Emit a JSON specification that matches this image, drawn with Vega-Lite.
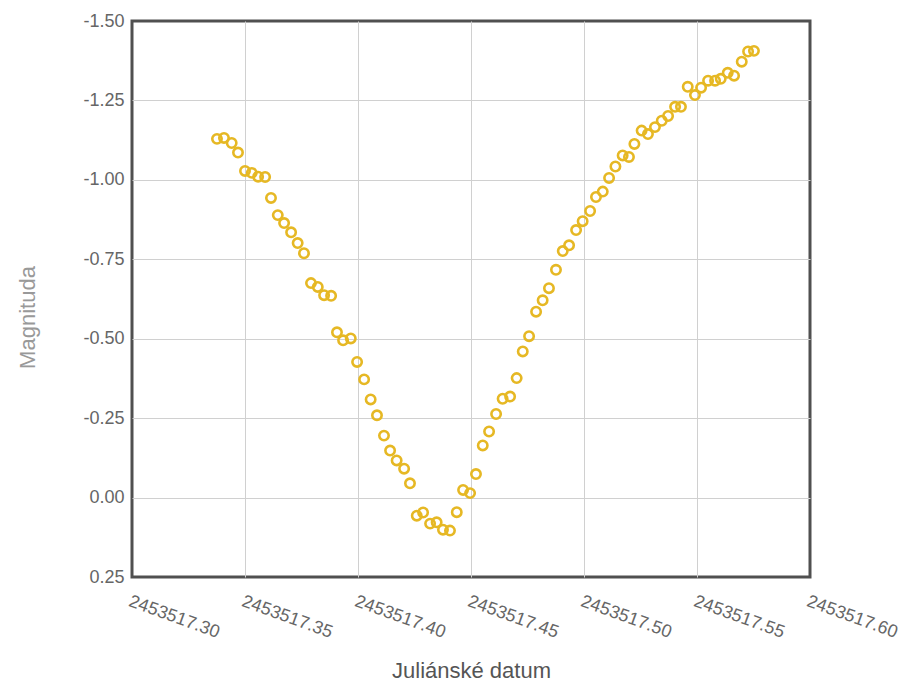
{
  "$schema": "https://vega.github.io/schema/vega-lite/v6.json",
  "usermeta": {"embedOptions": {"actions": false}},
  "autosize": {"type": "none"},
  "width": 678,
  "height": 556,
  "padding": {"left": 132, "top": 21, "right": 91, "bottom": 107},
  "background": "white",
  "config": {
    "view": {"stroke": "#505050", "strokeWidth": 3},
    "font": "Liberation Sans",
    "locale": {
      "number": {"decimal": ".", "thousands": ",", "grouping": [3], "currency": ["$", ""], "minus": "-"}
    }
  },
  "data": {
    "values": [
      {"jd": 2453517.3376, "mag": -1.129},
      {"jd": 2453517.3407, "mag": -1.132},
      {"jd": 2453517.3441, "mag": -1.116},
      {"jd": 2453517.3469, "mag": -1.086},
      {"jd": 2453517.3500, "mag": -1.028},
      {"jd": 2453517.3530, "mag": -1.022},
      {"jd": 2453517.3558, "mag": -1.010},
      {"jd": 2453517.3589, "mag": -1.009},
      {"jd": 2453517.3615, "mag": -0.943},
      {"jd": 2453517.3645, "mag": -0.889},
      {"jd": 2453517.3673, "mag": -0.864},
      {"jd": 2453517.3704, "mag": -0.835},
      {"jd": 2453517.3733, "mag": -0.801},
      {"jd": 2453517.3761, "mag": -0.769},
      {"jd": 2453517.3792, "mag": -0.675},
      {"jd": 2453517.3822, "mag": -0.663},
      {"jd": 2453517.3850, "mag": -0.637},
      {"jd": 2453517.3881, "mag": -0.635},
      {"jd": 2453517.3907, "mag": -0.520},
      {"jd": 2453517.3934, "mag": -0.495},
      {"jd": 2453517.3968, "mag": -0.501},
      {"jd": 2453517.3996, "mag": -0.427},
      {"jd": 2453517.4027, "mag": -0.372},
      {"jd": 2453517.4056, "mag": -0.309},
      {"jd": 2453517.4084, "mag": -0.259},
      {"jd": 2453517.4115, "mag": -0.195},
      {"jd": 2453517.4142, "mag": -0.148},
      {"jd": 2453517.4171, "mag": -0.117},
      {"jd": 2453517.4204, "mag": -0.091},
      {"jd": 2453517.4230, "mag": -0.045},
      {"jd": 2453517.4260, "mag": 0.057},
      {"jd": 2453517.4288, "mag": 0.047},
      {"jd": 2453517.4319, "mag": 0.082},
      {"jd": 2453517.4348, "mag": 0.078},
      {"jd": 2453517.4376, "mag": 0.101},
      {"jd": 2453517.4407, "mag": 0.104},
      {"jd": 2453517.4437, "mag": 0.046},
      {"jd": 2453517.4465, "mag": -0.024},
      {"jd": 2453517.4496, "mag": -0.014},
      {"jd": 2453517.4522, "mag": -0.074},
      {"jd": 2453517.4552, "mag": -0.164},
      {"jd": 2453517.4580, "mag": -0.208},
      {"jd": 2453517.4611, "mag": -0.263},
      {"jd": 2453517.4640, "mag": -0.311},
      {"jd": 2453517.4673, "mag": -0.318},
      {"jd": 2453517.4702, "mag": -0.376},
      {"jd": 2453517.4729, "mag": -0.460},
      {"jd": 2453517.4757, "mag": -0.508},
      {"jd": 2453517.4788, "mag": -0.585},
      {"jd": 2453517.4817, "mag": -0.621},
      {"jd": 2453517.4845, "mag": -0.659},
      {"jd": 2453517.4876, "mag": -0.717},
      {"jd": 2453517.4906, "mag": -0.776},
      {"jd": 2453517.4934, "mag": -0.794},
      {"jd": 2453517.4965, "mag": -0.842},
      {"jd": 2453517.4994, "mag": -0.870},
      {"jd": 2453517.5027, "mag": -0.902},
      {"jd": 2453517.5053, "mag": -0.946},
      {"jd": 2453517.5083, "mag": -0.963},
      {"jd": 2453517.5111, "mag": -1.006},
      {"jd": 2453517.5139, "mag": -1.042},
      {"jd": 2453517.5171, "mag": -1.077},
      {"jd": 2453517.5199, "mag": -1.072},
      {"jd": 2453517.5223, "mag": -1.113},
      {"jd": 2453517.5255, "mag": -1.155},
      {"jd": 2453517.5283, "mag": -1.144},
      {"jd": 2453517.5314, "mag": -1.166},
      {"jd": 2453517.5344, "mag": -1.186},
      {"jd": 2453517.5372, "mag": -1.201},
      {"jd": 2453517.5403, "mag": -1.230},
      {"jd": 2453517.5429, "mag": -1.230},
      {"jd": 2453517.5459, "mag": -1.293},
      {"jd": 2453517.5491, "mag": -1.267},
      {"jd": 2453517.5518, "mag": -1.290},
      {"jd": 2453517.5549, "mag": -1.312},
      {"jd": 2453517.5580, "mag": -1.312},
      {"jd": 2453517.5605, "mag": -1.318},
      {"jd": 2453517.5636, "mag": -1.337},
      {"jd": 2453517.5664, "mag": -1.328},
      {"jd": 2453517.5698, "mag": -1.372},
      {"jd": 2453517.5726, "mag": -1.404},
      {"jd": 2453517.5752, "mag": -1.406}
    ]
  },
  "mark": {"type": "point", "shape": "circle", "filled": false, "stroke": "#E6B824", "strokeWidth": 2.6, "size": 88, "opacity": 1},
  "encoding": {
    "x": {
      "field": "jd",
      "type": "quantitative",
      "scale": {"domain": [2453517.30, 2453517.60], "nice": false, "zero": false},
      "axis": {
        "title": "Juliánské datum",
        "values": [2453517.30, 2453517.35, 2453517.40, 2453517.45, 2453517.50, 2453517.55, 2453517.60],
        "format": ".2f",
        "labelAngle": 20,
        "labelAlign": "left",
        "labelBaseline": "top",
        "labelPadding": 15,
        "labelDx": -4,
        "labelFontSize": 18,
        "labelColor": "#666666",
        "labelFont": "Liberation Sans",
        "labelOverlap": false,
        "labelFlush": false,
        "ticks": false,
        "domain": false,
        "grid": true,
        "gridColor": {"condition": {"test": "datum.value <= 2453517.301 || datum.value >= 2453517.599", "value": "transparent"}, "value": "#d0d0d0"},
        "gridWidth": 1,
        "titleFontSize": 22,
        "titleFontWeight": "normal",
        "titleColor": "#555555",
        "titleFont": "Liberation Sans",
        "titleBaseline": "alphabetic",
        "titleY": 100,
        "titleX": 339,
        "titleAnchor": "middle"
      }
    },
    "y": {
      "field": "mag",
      "type": "quantitative",
      "scale": {"domain": [-1.5, 0.25], "nice": false, "zero": false, "reverse": true},
      "axis": {
        "title": "Magnituda",
        "values": [-1.5, -1.25, -1.0, -0.75, -0.5, -0.25, 0, 0.25],
        "format": ".2f",
        "labelFontSize": 18,
        "labelColor": "#666666",
        "labelFont": "Liberation Sans",
        "labelPadding": 8,
        "labelOverlap": false,
        "labelFlush": false,
        "ticks": false,
        "domain": false,
        "grid": true,
        "gridColor": {"condition": {"test": "datum.value <= -1.49 || datum.value >= 0.24", "value": "transparent"}, "value": "#d0d0d0"},
        "gridWidth": 1,
        "titleFontSize": 22,
        "titleFontWeight": "normal",
        "titleColor": "#999999",
        "titleFont": "Liberation Sans",
        "titleAngle": -90,
        "titleBaseline": "middle",
        "titleAlign": "center",
        "titleX": -105,
        "titleY": 296
      }
    }
  }
}
